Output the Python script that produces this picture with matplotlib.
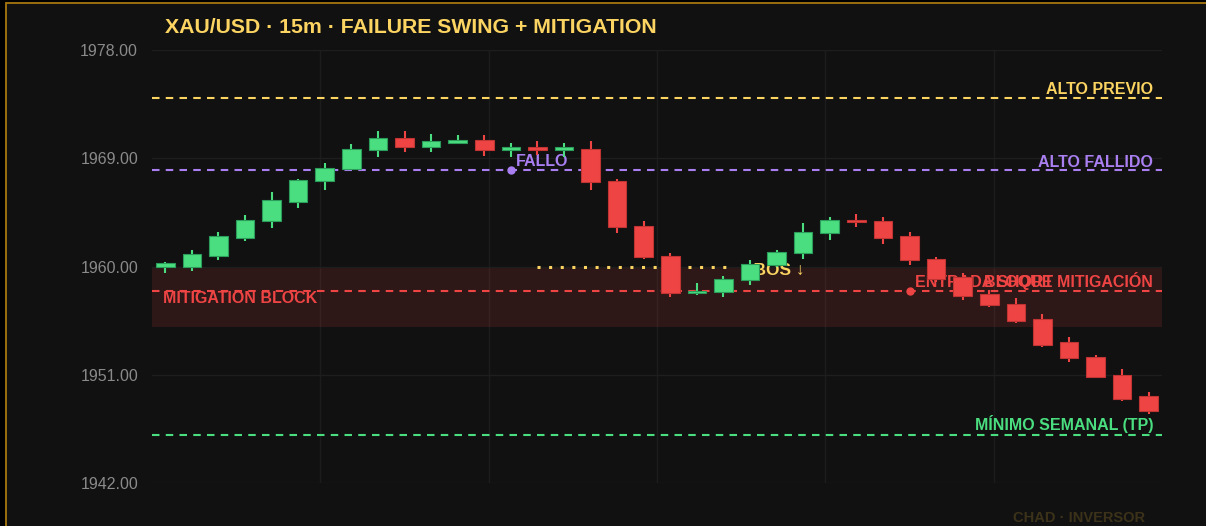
import numpy as np
import matplotlib
matplotlib.use('Agg')
import matplotlib.pyplot as plt
from matplotlib.patches import Rectangle

plt.rcParams['font.family'] = ['Liberation Sans', 'DejaVu Sans']

# XAU/USD 15m candles
opens = [1960.0, 1960.0, 1960.9, 1962.4, 1963.8, 1965.4, 1967.1, 1968.1, 1969.7, 1970.7,
         1969.9, 1970.3, 1970.5, 1969.7, 1969.9, 1969.7, 1969.8, 1967.1, 1963.4, 1960.9,
         1957.8, 1957.9, 1958.9, 1960.1, 1961.1, 1962.8, 1963.9, 1963.8, 1962.5, 1960.6,
         1959.1, 1957.7, 1956.9, 1955.6, 1953.7, 1952.5, 1951.0, 1949.2]
highs = [1960.4, 1961.4, 1962.9, 1964.3, 1966.2, 1967.3, 1968.6, 1970.2, 1971.3, 1971.3,
         1971.0, 1970.9, 1970.9, 1970.3, 1970.4, 1970.3, 1970.4, 1967.3, 1963.8, 1961.1,
         1958.6, 1959.2, 1960.5, 1961.4, 1963.6, 1964.1, 1964.4, 1964.1, 1962.9, 1960.8,
         1959.5, 1958.05, 1957.4, 1956.05, 1954.1, 1952.65, 1951.5, 1949.6]
lows = [1959.5, 1959.6, 1960.5, 1962.1, 1963.2, 1964.9, 1966.4, 1968.0, 1969.1, 1969.5,
        1969.5, 1970.2, 1969.2, 1969.1, 1969.3, 1969.1, 1966.4, 1962.8, 1960.6, 1957.5,
        1957.6, 1957.5, 1958.5, 1960.0, 1960.6, 1962.2, 1963.3, 1961.9, 1960.1, 1958.7,
        1957.2, 1956.6, 1955.3, 1953.3, 1952.1, 1950.75, 1948.85, 1947.7]
closes = [1960.3, 1961.0, 1962.5, 1963.9, 1965.5, 1967.2, 1968.2, 1969.8, 1970.7, 1969.9,
          1970.4, 1970.55, 1969.7, 1969.9, 1969.7, 1969.9, 1967.0, 1963.3, 1960.8, 1957.8,
          1958.0, 1959.0, 1960.2, 1961.2, 1962.9, 1963.9, 1963.7, 1962.4, 1960.5, 1959.0,
          1957.55, 1956.8, 1955.5, 1953.5, 1952.4, 1950.8, 1949.0, 1948.0]

# levels
alto_previo = 1974.0
alto_fallido = 1968.0
entrada = 1958.0
minimo_semanal = 1946.0
block_low, block_high = 1955.0, 1960.0
bos_level = 1960.0
bos_from, bos_to = 14, 21.3
fallo_idx = 13
entrada_idx = 28

yticks = [1942, 1951, 1960, 1969, 1978]

GREEN = '#4ade80'
RED = '#ef4444'
PURPLE = '#a97ff2'
YELLOW = '#fcd462'
BG = '#111111'

fig = plt.figure(figsize=(12.06, 5.26), dpi=100, facecolor='#000000')
frame = Rectangle((6 / 1206, -0.1), 1.2, 1.1 - 3.5 / 526, transform=fig.transFigure,
                  facecolor=BG, edgecolor='#a8780f', lw=1.3, zorder=-10)
fig.add_artist(frame)

ax = fig.add_axes([152 / 1206, 43 / 526, 1010 / 1206, 433 / 526])
ax.set_facecolor('none')
for s in ax.spines.values():
    s.set_visible(False)

n = len(opens)
ax.set_xlim(-0.5, n - 0.5)
ax.set_ylim(1942, 1978)
ax.set_yticks(yticks)
ax.set_yticklabels(['%.2f' % t for t in yticks])
ax.set_xticks([])
ax.tick_params(axis='y', length=0, pad=10, labelcolor='#8a8a8a', labelsize=11.5)
ax.grid(axis='y', color='#1e1e1e', lw=1, zorder=0)
for k in range(1, 6):
    ax.axvline(-0.5 + k * n / 6, color='#1c1c1c', lw=1, zorder=0)

# mitigation block zone
ax.axhspan(block_low, block_high, color=RED, alpha=0.13, lw=0, zorder=1)

dash = (0, (3.6, 3.0))
ax.axhline(alto_previo, color=YELLOW, lw=1.5, ls=dash, zorder=2)
ax.axhline(alto_fallido, color=PURPLE, lw=1.5, ls=dash, zorder=2)
ax.axhline(entrada, color=RED, lw=1.5, ls=dash, zorder=2)
ax.axhline(minimo_semanal, color=GREEN, lw=1.5, ls=dash, zorder=2)
ax.plot([bos_from, bos_to], [bos_level, bos_level], color=YELLOW, lw=2.2,
        ls=(0, (1, 2.8)), zorder=2)

# labels
lab = dict(fontsize=11.5, fontweight='bold', va='baseline', zorder=3)
ax.text(37.17, 1974.34, 'ALTO PREVIO', color=YELLOW, ha='right', **lab)
ax.text(37.17, 1968.25, 'ALTO FALLIDO', color=PURPLE, ha='right', **lab)
ax.text(37.17, 1946.4, 'MÍNIMO SEMANAL (TP)', color=GREEN, ha='right', **lab)
ax.text(-0.08, 1957.0, 'MITIGATION BLOCK', color=RED, ha='left', **lab)
ax.text(fallo_idx + 0.2, 1968.38, 'FALLO', color=PURPLE, ha='left', **lab)
ax.text(entrada_idx + 0.22, 1958.3, 'ENTRADA SHORT', color=RED, ha='left', **lab)
ax.text(37.17, 1958.3, 'BLOQUE MITIGACIÓN', color=RED, ha='right', **lab)
ax.text(21.6, 1959.3, '✕BOS ↓', color=YELLOW, ha='left', fontsize=12.5,
        fontweight='bold', va='baseline', zorder=3)

ax.plot(fallo_idx, alto_fallido, 'o', color=PURPLE, ms=5, zorder=4)
ax.plot(entrada_idx, entrada, 'o', color=RED, ms=5, zorder=4)

# candles
x = np.arange(n)
o = np.array(opens)
h = np.array(highs)
l = np.array(lows)
c = np.array(closes)
up = c >= o
col = np.where(up, GREEN, RED)
edge = np.where(up, '#2c9c5a', '#c03434')
ax.vlines(x, l, h, colors=col, lw=1.5, zorder=5)
ax.bar(x, np.maximum(np.abs(c - o), 0.15), bottom=np.minimum(o, c), width=0.7,
       color=col, edgecolor=edge, lw=0.8, zorder=6)

fig.text(165 / 1206, 1 - 33 / 526, 'XAU/USD · 15m · FAILURE SWING + MITIGATION',
         color=YELLOW, fontsize=15.3, fontweight='bold', va='baseline')
fig.text(1145 / 1206, 1 - 521.5 / 526, 'CHAD · INVERSOR', color='#3c3219',
         fontsize=10.5, fontweight='bold', ha='right', va='baseline')

fig.savefig('out.png', dpi=100, facecolor=fig.get_facecolor())
